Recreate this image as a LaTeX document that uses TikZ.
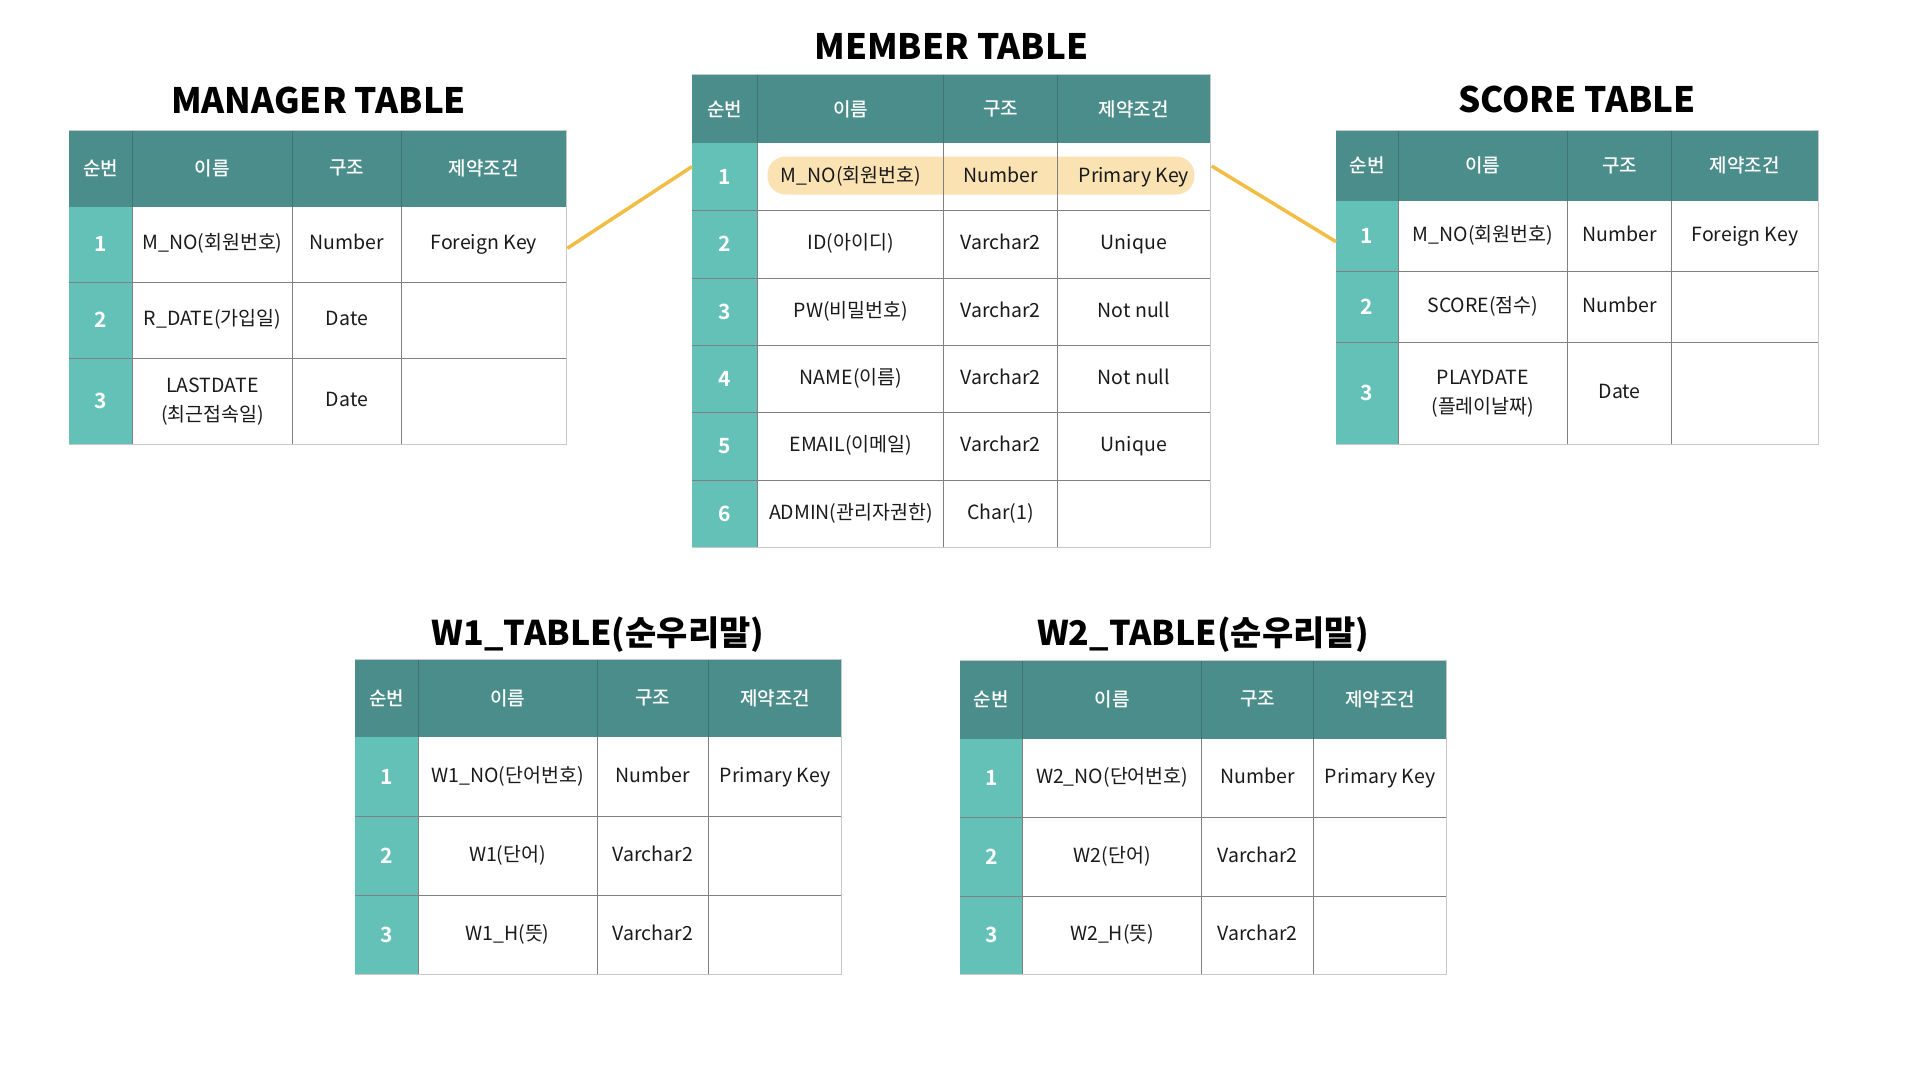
\documentclass[tikz,border=0pt]{standalone}
\usepackage{fontspec}
\setmainfont{Noto Sans CJK KR}[BoldFont={Noto Sans CJK KR Bold}]
\newfontfamily\medfont{Noto Sans CJK KR Medium}
\newfontfamily\blackfont{Noto Sans CJK KR Black}
\definecolor{hdrc}{HTML}{4A8D8A}
\definecolor{numc}{HTML}{63C1B7}
\definecolor{pillc}{HTML}{FAE2B3}
\definecolor{linkc}{HTML}{F2BD45}
\definecolor{gridc}{HTML}{808080}
\definecolor{edgec}{HTML}{C8C8C8}
\definecolor{hsep}{HTML}{3E7573}
\definecolor{txtc}{HTML}{1A1A1A}
\tikzset{
  hdrfill/.style={fill=hdrc},
  numfill/.style={fill=numc},
  hdrline/.style={draw=hsep,line width=1pt},
  gridline/.style={draw=gridc,line width=1pt},
  edgeline/.style={draw=edgec,line width=1pt},
  htext/.style={text=white,font=\medfont\fontsize{19}{23}\selectfont,inner sep=0pt},
  ntext/.style={text=white,font=\bfseries\fontsize{21}{24}\selectfont,inner sep=0pt,text height=15pt,text depth=0pt},
  btext/.style={text=txtc,font=\fontsize{19.5}{29}\selectfont,align=center,inner sep=0pt,text height=15pt,text depth=4pt},
  twoline/.style={text height={},text depth={}},
  ttext/.style={text=black,font=\blackfont\fontsize{35}{40}\selectfont,anchor=base,inner sep=0pt},
  wtitle/.style={font=\blackfont\fontsize{34}{40}\selectfont},
  link/.style={draw=linkc,line width=3.5pt},
  pill/.style={fill=pillc,rounded corners=18pt}
}
\newcommand\tabcols[5]{\def\ca{#1}\def\cb{#2}\def\cc{#3}\def\cd{#4}\def\ce{#5}}
\newcommand\hdrrow[3]{%
  \fill[hdrfill] (\ca,#2) rectangle (\ce,#3);
  \draw[hdrline] (\cb,#2) -- (\cb,#3) (\cc,#2) -- (\cc,#3) (\cd,#2) -- (\cd,#3);
  \node[htext] (#1h1) at ({(\ca+\cb)/2},{(#2+#3)/2}) {순번};
  \node[htext] (#1h2) at ({(\cb+\cc)/2},{(#2+#3)/2}) {이름};
  \node[htext] (#1h3) at ({(\cc+\cd)/2},{(#2+#3)/2}) {구조};
  \node[htext] (#1h4) at ({(\cd+\ce)/2},{(#2+#3)/2}) {제약조건};
}
\newcommand\datarow[8][]{%
  \fill[numfill] (\ca,#3) rectangle (\cb,#4);
  \node[ntext] (#2n) at ({(\ca+\cb)/2},{(#3+#4)/2}) {#5};
  \node[btext,#1] (#2a) at ({(\cb+\cc)/2},{(#3+#4)/2}) {#6};
  \node[btext] (#2b) at ({(\cc+\cd)/2},{(#3+#4)/2}) {#7};
  \node[btext] (#2c) at ({(\cd+\ce)/2},{(#3+#4)/2}) {#8};
}
% #1 header bottom, #2 table bottom, #3 header top
\newcommand\tabgrid[3]{%
  \draw[gridline] (\cb,#1) -- (\cb,#2) (\cc,#1) -- (\cc,#2) (\cd,#1) -- (\cd,#2);
  \draw[edgeline] (\ca,#2) -- (\ce,#2) -- (\ce,#3) -- (\ca,#3);
}
\newcommand\rowsep[1]{\draw[gridline] (\ca,#1) -- (\ce,#1);}
\begin{document}
\begin{tikzpicture}[x=1pt,y=-1pt]
\useasboundingbox[fill=white] (0,0) rectangle (1920,1080);

% ---------- MANAGER TABLE ----------
\node[ttext] (mgrtitle) at (318.5,113.3) {MANAGER TABLE};
\tabcols{69}{132.7}{292.2}{401.6}{566}
\hdrrow{mg}{130}{206.7}
\datarow{mg1}{206.7}{282}{1}{M\_NO(회원번호)}{Number}{Foreign Key}
\datarow{mg2}{282}{358.3}{2}{R\_DATE(가입일)}{Date}{}
\datarow[twoline]{mg3}{358.3}{444}{3}{LASTDATE\\(최근접속일)}{Date}{}
\rowsep{282}\rowsep{358.3}
\tabgrid{206.7}{444}{130}

% ---------- MEMBER TABLE ----------
\node[ttext] (memtitle) at (951.3,59) {MEMBER TABLE};
\tabcols{691.8}{757.9}{943.9}{1057.1}{1210.7}
\hdrrow{me}{74.7}{143.3}
\fill[pill] (767.5,156.5) rectangle (1194.3,194.5);
\datarow{me1}{143.3}{210.6}{1}{M\_NO(회원번호)}{Number}{Primary Key}
\datarow{me2}{210.6}{278}{2}{ID(아이디)}{Varchar2}{Unique}
\datarow{me3}{278}{345.3}{3}{PW(비밀번호)}{Varchar2}{Not null}
\datarow{me4}{345.3}{412.6}{4}{NAME(이름)}{Varchar2}{Not null}
\datarow{me5}{412.6}{480}{5}{EMAIL(이메일)}{Varchar2}{Unique}
\datarow{me6}{480}{547.3}{6}{ADMIN(관리자권한)}{Char(1)}{}
\rowsep{210.6}\rowsep{278}\rowsep{345.3}\rowsep{412.6}\rowsep{480}
\tabgrid{143.3}{547.3}{74.7}

% ---------- SCORE TABLE ----------
\node[ttext] (sctitle) at (1577,112.7) {SCORE TABLE};
\tabcols{1335.9}{1398.4}{1567.3}{1671.8}{1818}
\hdrrow{sc}{130}{201}
\datarow{sc1}{201}{271.7}{1}{M\_NO(회원번호)}{Number}{Foreign Key}
\datarow{sc2}{271.7}{342.7}{2}{SCORE(점수)}{Number}{}
\datarow[twoline]{sc3}{342.7}{444}{3}{PLAYDATE\\(플레이날짜)}{Date}{}
\rowsep{271.7}\rowsep{342.7}
\tabgrid{201}{444}{130}

% ---------- W1 TABLE ----------
\node[ttext,wtitle] (w1title) at (598,645) {W1\_TABLE(순우리말)};
\tabcols{355}{418}{597}{708.7}{841.7}
\hdrrow{wa}{659.3}{737.3}
\datarow{wa1}{737.3}{816}{1}{W1\_NO(단어번호)}{Number}{Primary Key}
\datarow{wa2}{816}{895}{2}{W1(단어)}{Varchar2}{}
\datarow{wa3}{895}{974}{3}{W1\_H(뜻)}{Varchar2}{}
\rowsep{816}\rowsep{895}
\tabgrid{737.3}{974}{659.3}

% ---------- W2 TABLE ----------
\node[ttext,wtitle] (w2title) at (1203.3,645) {W2\_TABLE(순우리말)};
\tabcols{960}{1022.7}{1201.7}{1313.3}{1446.7}
\hdrrow{wb}{660}{738.7}
\datarow{wb1}{738.7}{817.3}{1}{W2\_NO(단어번호)}{Number}{Primary Key}
\datarow{wb2}{817.3}{896}{2}{W2(단어)}{Varchar2}{}
\datarow{wb3}{896}{974.7}{3}{W2\_H(뜻)}{Varchar2}{}
\rowsep{817.3}\rowsep{896}
\tabgrid{738.7}{974.7}{660}

% ---------- connectors ----------
\coordinate (la) at (567.3,248.3);
\coordinate (lb) at (691.8,166.7);
\coordinate (ra) at (1211.7,166);
\coordinate (rb) at (1336,241.7);
\draw[link] (la) -- (lb);
\draw[link] (ra) -- (rb);
\end{tikzpicture}
\end{document}
